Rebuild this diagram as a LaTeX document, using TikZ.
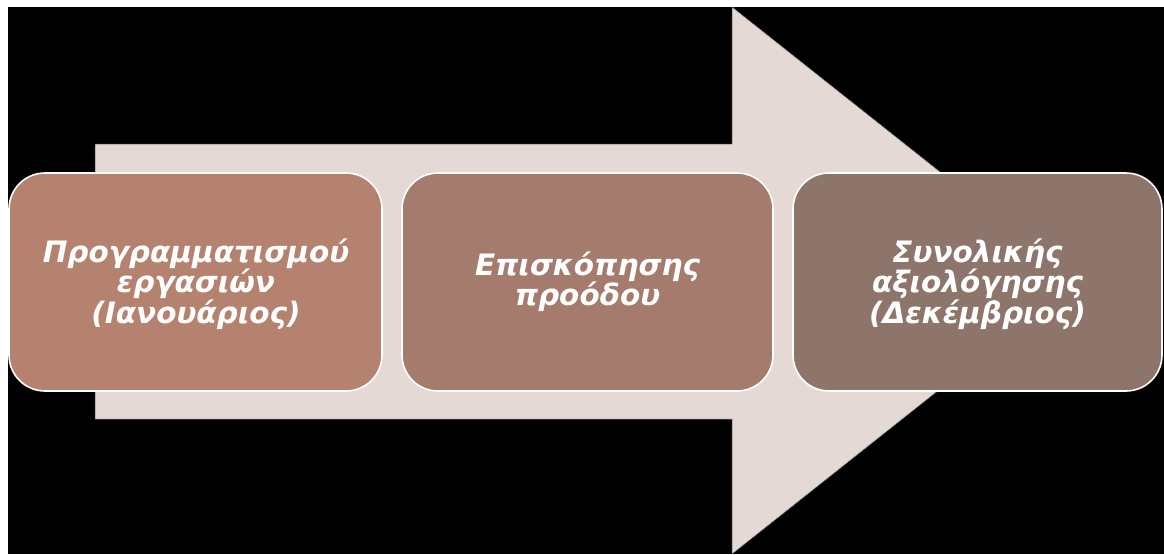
\documentclass[tikz,border=0pt]{standalone}
\usepackage{fontspec}
\setmainfont{DejaVu Sans}
\begin{document}
\begin{tikzpicture}[x=1pt,y=-1pt,
  stepbox/.style={draw=white, line width=1.6pt, rounded corners=36pt, text=white,
    font=\fontsize{29.5}{30.5}\selectfont\bfseries\itshape, align=center},
]
\useasboundingbox (0,0) rectangle (1164,554);
\fill[white] (0,0) rectangle (1164,554);
\fill[black] (8,7) rectangle (1164,554);
% big arrow
\fill[draw=black!60, line width=0.5pt, fill={rgb,255:red,229;green,217;blue,213}]
  (95,144) -- (732,144) -- (732,7) -- (1077,280.5) -- (732,554) -- (732,419) -- (95,419) -- cycle;
% boxes
\filldraw[stepbox, fill={rgb,255:red,181;green,130;blue,111}] (9,173) rectangle (382,391);
\filldraw[stepbox, fill={rgb,255:red,164;green,123;blue,108}] (402,173) rectangle (773,391);
\filldraw[stepbox, fill={rgb,255:red,141;green,117;blue,107}] (793,173) rectangle (1162,391);
\node[stepbox, draw=none] (a) at (196,284) {Προγραμματισμού\\εργασιών\\(Ιανουάριος)};
\node[stepbox, draw=none] (b) at (587.5,282) {Επισκόπησης\\προόδου};
\node[stepbox, draw=none] (c) at (977.5,284) {Συνολικής\\αξιολόγησης\\(Δεκέμβριος)};
\end{tikzpicture}
\end{document}
